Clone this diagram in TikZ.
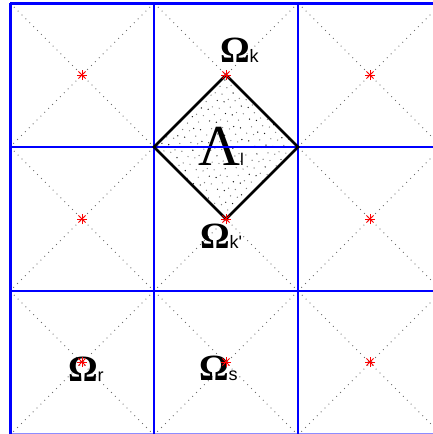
\documentclass[tikz,border=0pt]{standalone}
\usepackage{fontspec}
\setmainfont{Liberation Serif}
\newfontfamily\sansf{Liberation Sans}
\newfontfamily\seriff{Liberation Serif}[BoldFont={Liberation Serif Bold}]
\tikzset{
  gridline/.style={blue, line width=2.3pt},
  diagline/.style={gray!85!black, line width=0.9pt, dash pattern=on 0.9pt off 4.6pt},
  diamondline/.style={black, line width=2.7pt, line join=miter},
  rstar/.pic={\foreach \a in {0,45,90,135} \draw[red, line width=0.8pt] (\a:5) -- (\a+180:5);},
  lbl/.style={anchor=base west, inner sep=0pt, outer sep=0pt}
}
\newcommand{\bigom}[1]{{\seriff\bfseries\fontsize{37}{37}\selectfont Ω}{\sansf\fontsize{18}{18}\selectfont #1}}
\begin{document}
\begin{tikzpicture}[x=1pt,y=-1pt]
\useasboundingbox (0,0) rectangle (433,434);
\begin{scope}
\clip (0,0) rectangle (433,434);
% dotted diagonals
\foreach \cx in {10,154,298} {
  \foreach \cy in {3,147,291} {
    \draw[diagline] (\cx,\cy) -- ({\cx+144},{\cy+144});
    \draw[diagline] ({\cx+144},\cy) -- (\cx,{\cy+144});
  }
}
% stipple inside diamond (quasi-random R2 sequence)
\foreach \i in {1,...,190} {
  \pgfmathsetmacro\u{mod(0.5+\i*0.7548776662,1)}
  \pgfmathsetmacro\v{mod(0.5+\i*0.5698402910,1)}
  \pgfmathsetmacro\g{mod(\i,3)==0 ? 90 : 50}
  \fill[black!\g] ({226+72*\u-72*\v},{75+72*\u+72*\v}) circle (0.7);
}
% labels
\node[lbl] (ok) at (220,62) {\bigom{k}};
\node[lbl] (ll) at (198,165) {{\seriff\fontsize{58}{58}\selectfont Λ}{\sansf\fontsize{17}{17}\selectfont l}};
\node[lbl] (okp) at (200,248) {\bigom{k'}};
\node[lbl] (or) at (68,381) {\bigom{r}};
\node[lbl] (os) at (199,380) {\bigom{s}};
% grid
\coordinate (t1) at (10,3.5);
\coordinate (t2) at (433,3.5);
\coordinate (m1) at (10,147);
\coordinate (m2) at (433,147);
\coordinate (b1) at (10,291);
\coordinate (b2) at (433,291);
\coordinate (v1a) at (10.5,3);
\coordinate (v1b) at (10.5,434);
\coordinate (v2a) at (154,3);
\coordinate (v2b) at (154,434);
\coordinate (v3a) at (298,3);
\coordinate (v3b) at (298,434);
\coordinate (e1) at (10,433);
\coordinate (e2) at (433,433);
\draw[blue!45, line width=1pt] (e1) -- (e2);
\draw[gridline] (t1) -- (t2);
\draw[gridline] (m1) -- (m2);
\draw[gridline] (b1) -- (b2);
\draw[gridline] (v1a) -- (v1b);
\draw[gridline] (v2a) -- (v2b);
\draw[gridline] (v3a) -- (v3b);
% diamond
\coordinate (dt) at (226,75);
\coordinate (dr) at (298,147);
\coordinate (db) at (226,219);
\coordinate (dl) at (154,147);
\draw[diamondline] (dt) -- (dr) -- (db) -- (dl) -- cycle;
% stars
\foreach \sx in {82,226,370} {
  \foreach \sy in {75,219,362} {
    \pic at (\sx,\sy) {rstar};
  }
}
\end{scope}
\end{tikzpicture}
\end{document}
